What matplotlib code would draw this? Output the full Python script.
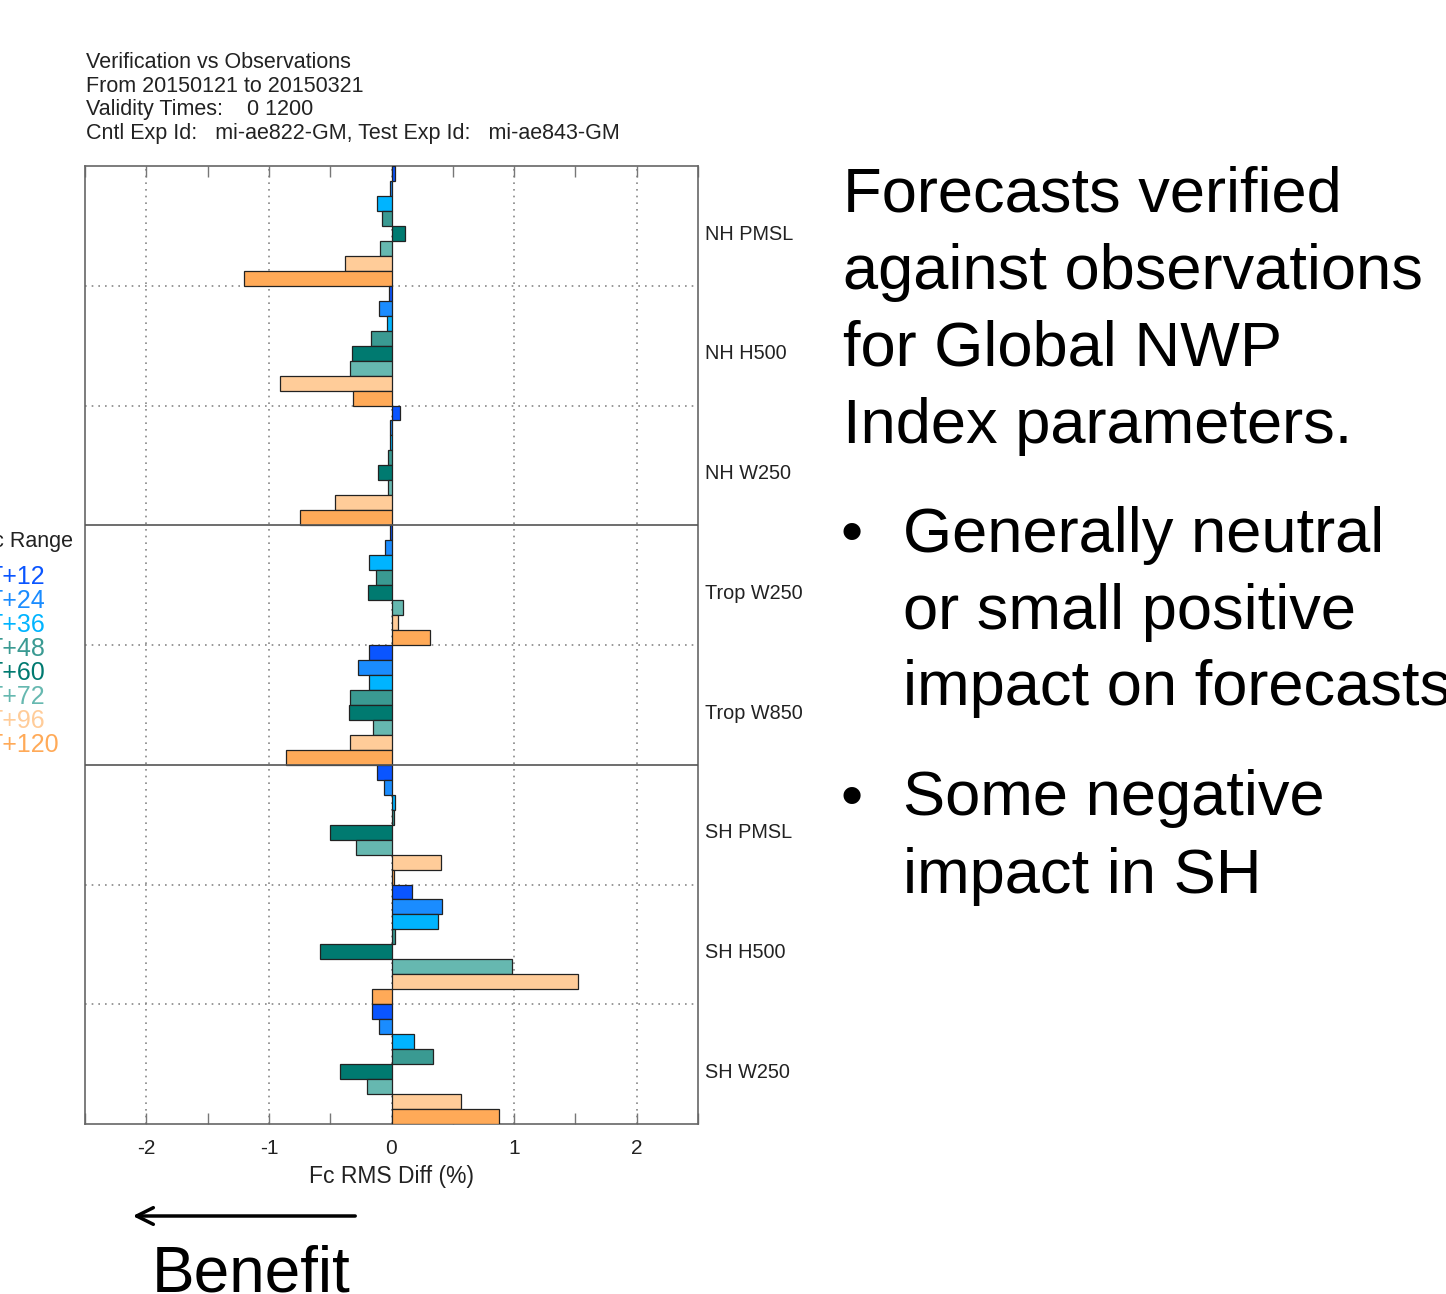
import matplotlib
matplotlib.use("Agg")
import matplotlib.pyplot as plt
import numpy as np

plt.rcParams['font.family'] = ['Liberation Sans', 'DejaVu Sans']

params = ["NH PMSL", "NH H500", "NH W250", "Trop W250", "Trop W850",
          "SH PMSL", "SH H500", "SH W250"]
ranges = ["T+12", "T+24", "T+36", "T+48", "T+60", "T+72", "T+96", "T+120"]
colors = ["#0a55ff", "#1a8cff", "#00b4ff", "#3a9a92", "#007a70", "#66b8b0",
          "#ffcc99", "#ffaa58"]

# values[param][range] in % (Fc RMS Diff)
nh_pmsl = [0.03, -0.01, -0.12, -0.08, 0.11, -0.09, -0.38, -1.20]
nh_h500 = [-0.02, -0.10, -0.04, -0.17, -0.32, -0.34, -0.91, -0.31]
nh_w250 = [0.07, -0.01, -0.01, -0.03, -0.11, -0.03, -0.46, -0.75]
trop_w250 = [-0.01, -0.05, -0.18, -0.13, -0.19, 0.09, 0.05, 0.31]
trop_w850 = [-0.18, -0.27, -0.18, -0.34, -0.35, -0.15, -0.34, -0.86]
sh_pmsl = [-0.12, -0.06, 0.03, 0.02, -0.50, -0.29, 0.40, 0.02]
sh_h500 = [0.17, 0.41, 0.38, 0.03, -0.58, 0.98, 1.52, -0.16]
sh_w250 = [-0.16, -0.10, 0.18, 0.34, -0.42, -0.20, 0.57, 0.88]
values = [nh_pmsl, nh_h500, nh_w250, trop_w250, trop_w850, sh_pmsl, sh_h500, sh_w250]

title_lines = ["Verification vs Observations",
               "From 20150121 to 20150321",
               "Validity Times:    0 1200",
               "Cntl Exp Id:   mi-ae822-GM, Test Exp Id:   mi-ae843-GM"]

W, H = 1446, 1294
fig = plt.figure(figsize=(W / 100, H / 100), dpi=100)
fig.patch.set_facecolor("white")

def fx(px):
    return px / W

def fy(py):
    return 1 - py / H

ax = fig.add_axes([fx(85), fy(1124), fx(698) - fx(85), fy(166) - fy(1124)])
n = len(ranges)
for g, vals in enumerate(values):
    for i, v in enumerate(vals):
        ax.barh(g * n + i + 0.5, v, height=1.0, color=colors[i],
                edgecolor="#222222", linewidth=0.9, zorder=3)

ax.set_xlim(-2.5, 2.5)
ax.set_ylim(len(params) * n, 0)
ax.set_yticks([])
ax.set_xticks([-2, -1, 0, 1, 2])
ax.set_xticklabels(["-2", "-1", "0", "1", "2"], fontsize=15, color="#222222")
ax.set_xticks(np.arange(-2.5, 2.51, 0.5), minor=True)
ax.tick_params(axis="x", which="both", direction="in", top=True, bottom=True,
               length=8, width=1, color="#777777", pad=11)
for sp in ax.spines.values():
    sp.set_color("#666666")
    sp.set_linewidth(1.2)

for xv in [-2, -1, 0, 1, 2]:
    ax.axvline(xv, color="#888888", linestyle=(0, (1, 3)), linewidth=1.2, zorder=1)
for g in range(1, len(params)):
    yb = g * n
    if g in (3, 5):
        ax.axhline(yb, color="#555555", linewidth=1.2, zorder=4)
    else:
        ax.axhline(yb, color="#888888", linestyle=(0, (1, 3)), linewidth=1.2, zorder=1)

for g, p in enumerate(params):
    ax.text(2.56, g * n + n / 2 + 0.55, p, fontsize=14.3, color="#222222",
            va="center", ha="left", clip_on=False)

ax.set_xlabel("Fc RMS Diff (%)", fontsize=16.5, color="#222222", labelpad=5)

for k, line in enumerate(title_lines):
    fig.text(fx(86), fy(62 + 24 * k), line, fontsize=15.5, color="#222222",
             va="center", ha="left")

# Legend (partly outside figure, as in reference)
fig.text(fx(73), fy(542), "Fc Range", fontsize=15.5, color="#222222",
         va="center", ha="right")
for i, r in enumerate(ranges):
    fig.text(fx(-13), fy(577 + 24 * i), r, fontsize=18, color=colors[i],
             va="center", ha="left")

# Right-hand text
big = 45.5
for k, line in enumerate(["Forecasts verified", "against observations",
                          "for Global NWP", "Index parameters."]):
    fig.text(fx(843), fy(195 + 77 * k), line, fontsize=big, color="black",
             va="center", ha="left")
bullets = [(["Generally neutral", "or small positive", "impact on forecasts"], 535),
           (["Some negative", "impact in SH"], 799)]
for lines, y0 in bullets:
    fig.text(fx(840), fy(y0), "\u2022", fontsize=big, color="black",
             va="center", ha="left")
    for k, line in enumerate(lines):
        fig.text(fx(903), fy(y0 + 77 * k), line, fontsize=big, color="black",
                 va="center", ha="left")

# Benefit arrow
fig.add_artist(matplotlib.patches.FancyArrowPatch(
    (fx(358), fy(1216)), (fx(130), fy(1216)), transform=fig.transFigure,
    arrowstyle="->,head_length=12,head_width=6", linewidth=2.5, color="black",
    mutation_scale=1))
fig.text(fx(152), fy(1274), "Benefit", fontsize=46, color="black",
         va="center", ha="left")

fig.savefig("out.png", dpi=100, facecolor="white")
